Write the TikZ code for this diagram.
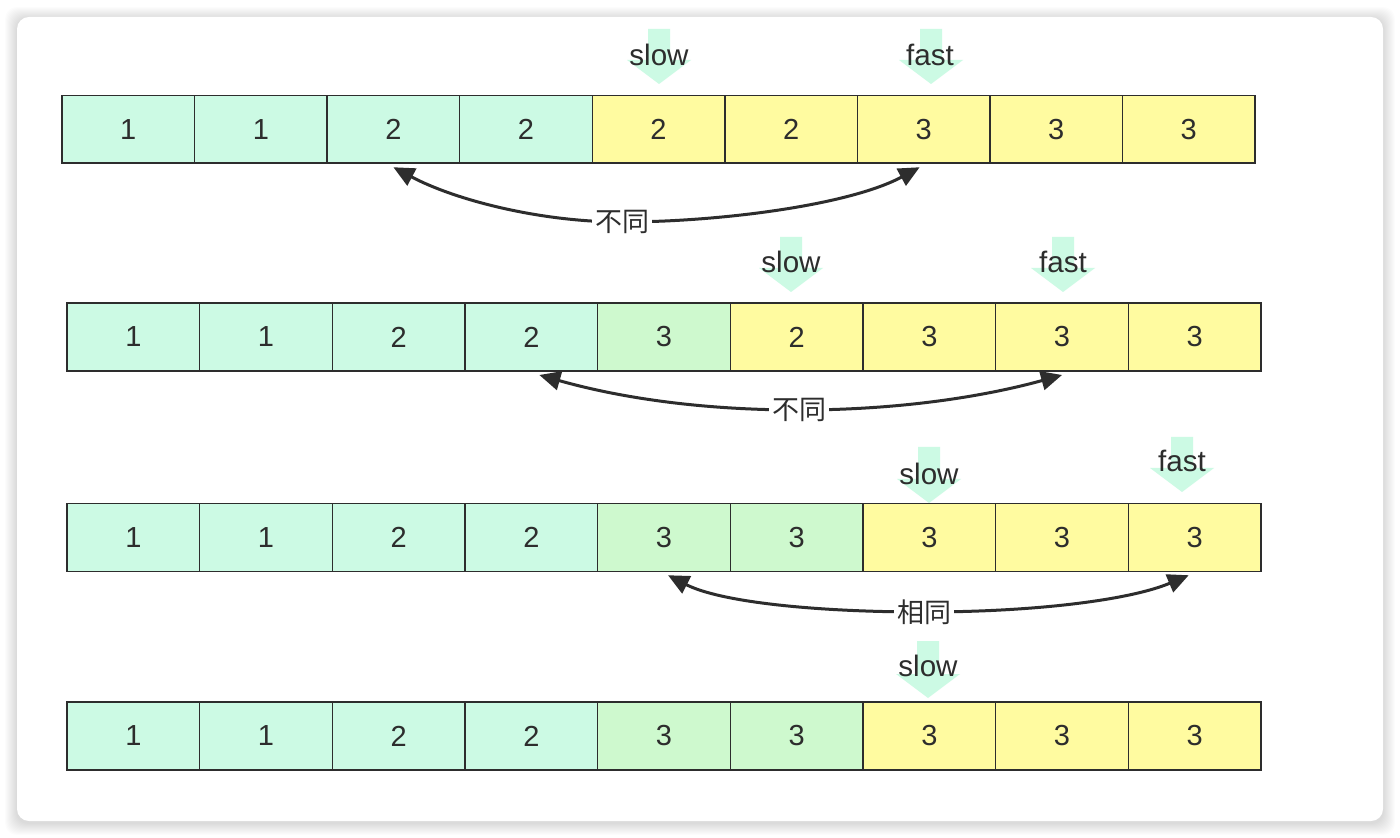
\documentclass[tikz,border=0pt]{standalone}
\usepackage{fontspec}
\setmainfont{Liberation Sans}
\newfontfamily\cjk{Noto Sans CJK SC}
\usetikzlibrary{arrows.meta}
\definecolor{mint}{RGB}{204,250,228}
\definecolor{lgreen}{RGB}{206,249,206}
\definecolor{lyellow}{RGB}{255,251,160}
\definecolor{ink}{RGB}{45,45,45}
\newcommand\markarrow[3]{%
  \fill[mint] (#1-11,#2-#3) -- (#1+11,#2-#3) -- (#1+11,#2-24) -- (#1+32,#2-24) -- (#1,#2) -- (#1-32,#2-24) -- (#1-11,#2-24) -- cycle;}
\begin{document}
\begin{tikzpicture}[x=0.5pt,y=-0.5pt,
  cell/.style={draw=ink, line width=0.75pt, inner sep=0pt, outer sep=0pt, minimum height=#1, text=ink, font=\fontsize{14.5}{16}\selectfont},
  cell/.default=33.75pt,
  ptr/.style={text=ink, inner sep=1pt, font=\fontsize{14.8}{17}\selectfont},
  rel/.style={text=ink, fill=white, inner sep=1.5pt, font=\cjk\fontsize{13.5}{16}\selectfont},
  link/.style={draw=ink, line width=1.5pt, {Triangle[length=10.5pt,width=9.5pt]}-{Triangle[length=10.5pt,width=9.5pt]}}]
\useasboundingbox (0,0) rectangle (1400,838);
\fill[white] (0,0) rectangle (1400,838);
% card shadow
\foreach \i in {1,...,12}{
  \fill[black, opacity=0.011, rounded corners=6pt] (17-\i,19-\i) rectangle (1383+\i,823+\i);
}
\fill[white, rounded corners=6pt] (17,17) rectangle (1383,821);

% ---- Row 1 ----
\def\w{132.56}
\foreach \v/\c [count=\k] in {1/mint,1/mint,2/mint,2/mint,2/lyellow,2/lyellow,3/lyellow,3/lyellow,3/lyellow}{
  \node[cell, fill=\c, minimum width=66.28pt] (a\k) at ({62+\w*(\k-0.5)},129.5) {\v};
}
% ---- Rows 2-4 ----
\def\wb{132.67}
\foreach \v/\c [count=\k] in {1/mint,1/mint,2/mint,2/mint,3/lgreen,2/lyellow,3/lyellow,3/lyellow,3/lyellow}{
  \node[cell=34pt, fill=\c, minimum width=66.33pt] (b\k) at ({67+\wb*(\k-0.5)},337) {\v};
}
\foreach \v/\c [count=\k] in {1/mint,1/mint,2/mint,2/mint,3/lgreen,3/lgreen,3/lyellow,3/lyellow,3/lyellow}{
  \node[cell, fill=\c, minimum width=66.33pt] (c\k) at ({67+\wb*(\k-0.5)},537.5) {\v};
}
\foreach \v/\c [count=\k] in {1/mint,1/mint,2/mint,2/mint,3/lgreen,3/lgreen,3/lyellow,3/lyellow,3/lyellow}{
  \node[cell=34pt, fill=\c, minimum width=66.33pt] (d\k) at ({67+\wb*(\k-0.5)},736) {\v};
}

% ---- pointer arrows ----
\markarrow{659}{84}{55}
\markarrow{931}{84}{55}
\markarrow{791}{292}{55}
\markarrow{1063}{292}{55}
\markarrow{929}{503}{56}
\markarrow{1182}{492}{55}
\markarrow{928}{698}{57}
\node[ptr] (s1) at (659,55) {slow};
\node[ptr] (f1) at (930,55) {fast};
\node[ptr] (s2) at (791,262) {slow};
\node[ptr] (f2) at (1063,262) {fast};
\node[ptr] (s3) at (929,474) {slow};
\node[ptr] (f3) at (1182,461) {fast};
\node[ptr] (s4) at (928,666) {slow};

% ---- comparison links ----
\coordinate (m1) at (622,222);
\coordinate (m2) at (799,410);
\coordinate (m3) at (924,612);
\draw[link] ([yshift=-2]a3.south) .. controls (455,200) and (540,222) .. (m1)
  .. controls (720,222) and (850,205) .. ([xshift=-2,yshift=-2]a7.south);
\node[rel] (l1) at (m1) {不同};
\draw[link] ([xshift=4,yshift=-2]b4.south) .. controls (610,395) and (690,410) .. (m2)
  .. controls (905,410) and (990,395) .. ([yshift=-2]b8.south);
\node[rel] (l2) at (m2) {不同};
\draw[link] ([xshift=2,yshift=-2]c5.south) .. controls (720,602) and (815,612) .. (m3)
  .. controls (1035,612) and (1130,600) .. ([xshift=-3,yshift=-2]c9.south);
\node[rel] (l3) at (m3) {相同};
\end{tikzpicture}
\end{document}
